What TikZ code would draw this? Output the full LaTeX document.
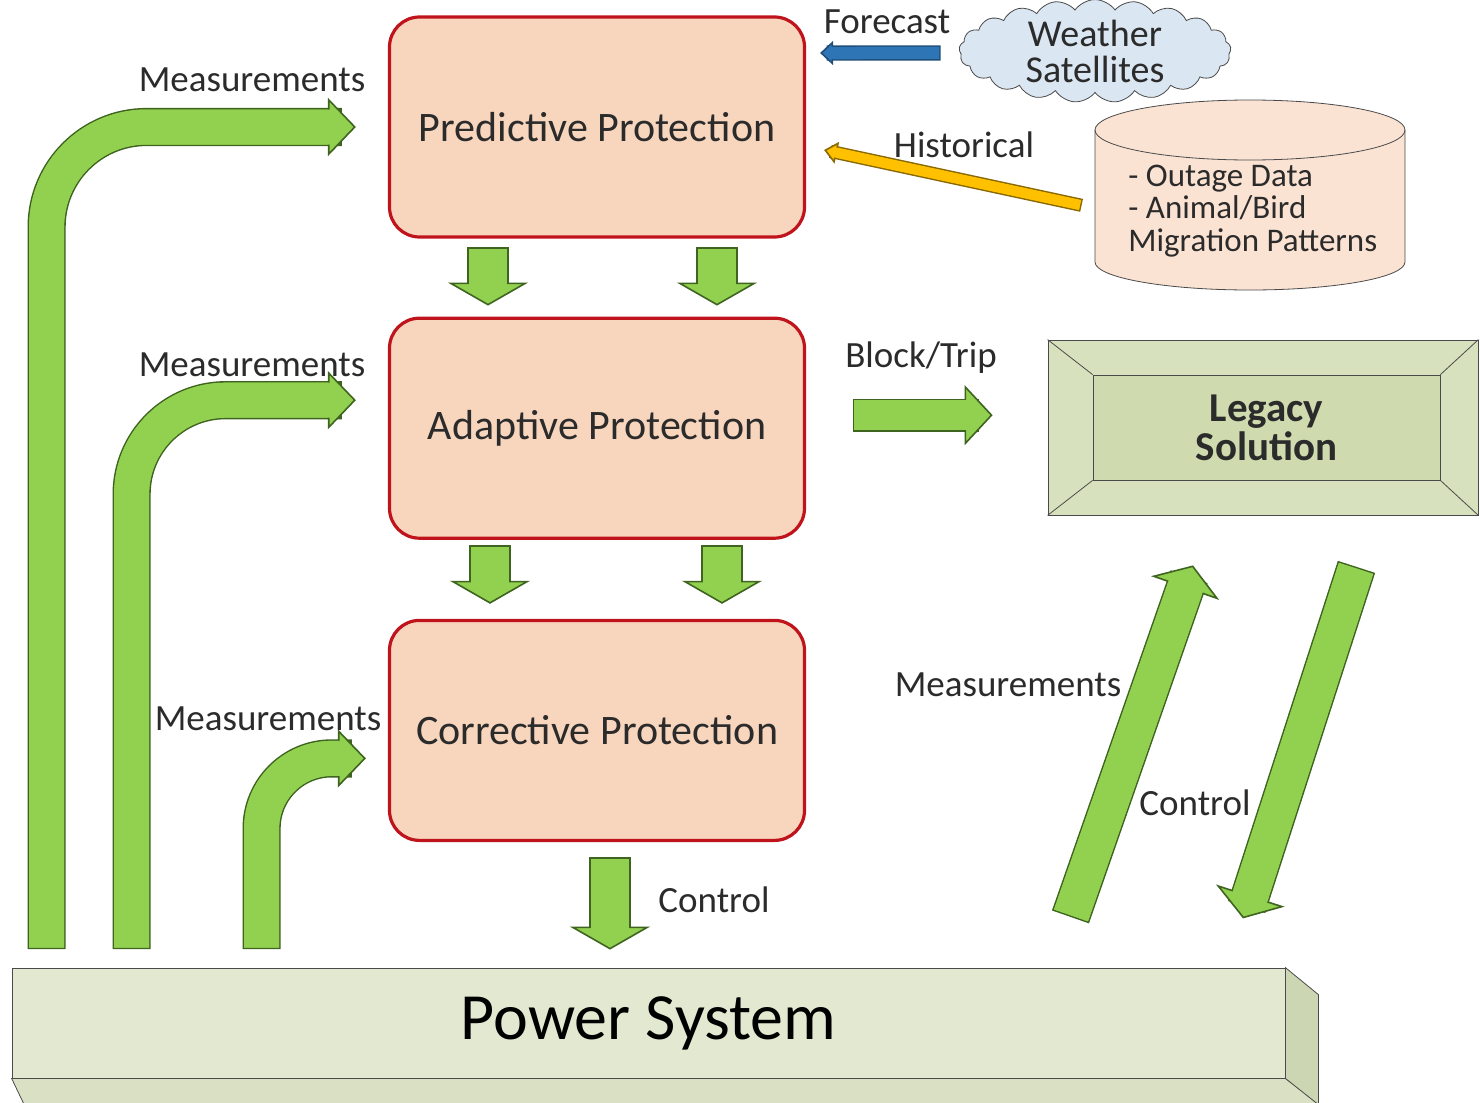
\documentclass[tikz,border=0pt]{standalone}
\usepackage{fontspec}
\setmainfont{Carlito}
\usetikzlibrary{positioning,calc,arrows.meta,shapes.symbols}

\definecolor{boxfill}{HTML}{F8D6BE}
\definecolor{boxred}{HTML}{C0141C}
\definecolor{flowgreen}{HTML}{92D050}
\definecolor{flowgreenedge}{HTML}{3F6420}
\definecolor{fcblue}{HTML}{2E75B6}
\definecolor{fcblueedge}{HTML}{1F4E79}
\definecolor{histgold}{HTML}{FFC000}
\definecolor{histgoldedge}{HTML}{8A6A00}
\definecolor{cloudblue}{HTML}{DAE6F2}
\definecolor{dbfill}{HTML}{FBE3D3}
\definecolor{legacyfill}{HTML}{D7E1BD}
\definecolor{legacyin}{HTML}{CFDBAF}
\definecolor{psfront}{HTML}{E3E9D1}
\definecolor{psbottom}{HTML}{D9E0C3}
\definecolor{psside}{HTML}{CDD6B3}
\definecolor{ink}{HTML}{2B2B2B}
\definecolor{rim}{HTML}{4A4A4A}

\begin{document}
\begin{tikzpicture}[x=0.5pt, y=-0.5pt,
      protect/.style = {draw=boxred, line width=1.6pt, fill=boxfill,
         rounded corners=15pt, minimum width=207.5pt, minimum height=110pt,
         font=\fontsize{21}{24}\selectfont, text=ink},
      lbl/.style = {font=\fontsize{18.5}{20}\selectfont, text=ink, inner sep=0pt},
      fat/.style n args={4}{draw=#4, line width=#1,
         preaction={draw=#4edge, line width=#1+1.6pt, -, shorten <=-0.8pt,
            shorten >=#3/2},
         postaction={draw=#4, line width=#1, -, shorten >=#3-1.5pt},
         -{Triangle[width=#2, length=#3, line width=0.8pt, color=#4edge, fill=#4]}},
      flow/.style = {fat={17.5pt}{29pt}{14pt}{flowgreen}},
      drop/.style = {fat={19pt}{40pt}{11.5pt}{flowgreen}},
      slant/.style = {fat={18pt}{36pt}{12pt}{flowgreen}}
]
   \useasboundingbox (0,0) rectangle (1480,1103);

   % protection stages
   \node[protect]                        (pred)  at (597,127) {Predictive Protection};
   \node[protect, below=39pt of pred]    (adapt) {Adaptive Protection};
   \node[protect, below=39.5pt of adapt] (corr)  {Corrective Protection};

   % power system slab
   \node[draw=rim, fill=psfront, minimum width=636.5pt, minimum height=55pt,
      font=\fontsize{33}{36}\selectfont] (power) at (648.5,1023) {Power System};
   \filldraw[draw=rim, fill=psbottom] (power.south west) -- (power.south east)
      -- ++(33,25) -- ($(power.south west)+(12,25)$) -- cycle;
   \filldraw[draw=rim, fill=psside] (power.north east) -- ++(33,27) -- ++(0,110)
      -- (power.south east) -- cycle;

   % legacy solution
   \node[draw=rim, fill=legacyfill, minimum width=215pt, minimum height=87.5pt]
      (legacy) at (1263,427.5) {};
   \node[draw=rim, fill=legacyin, minimum width=173.5pt, minimum height=52.5pt,
      align=center, font=\bfseries\fontsize{20.5}{19.5}\selectfont, text=ink]
      (sol) at (1266.5,427.5) {Legacy\\Solution};
   \foreach \c in {north west, north east, south west, south east}
      \draw[rim] (legacy.\c) -- (sol.\c);

   % weather satellites
   \node[cloud, cloud puffs=21, cloud puff arc=110, cloud ignores aspect,
      draw=rim, fill=cloudblue, minimum width=136pt, minimum height=42pt,
      lbl, align=center, font=\fontsize{19}{18}\selectfont]
      (sat) at (1095,51) {Weather\\Satellites};

   % historical database
   \filldraw[draw=rim, fill=dbfill] (1095,130) -- (1095,262)
      arc[start angle=180, end angle=360, x radius=77.5pt, y radius=14pt]
      -- (1405,130)
      arc[start angle=0, end angle=180, x radius=77.5pt, y radius=15pt] -- cycle;
   \draw[rim] (1095,130)
      arc[start angle=180, end angle=360, x radius=77.5pt, y radius=15pt];
   \node[lbl, anchor=west, align=left, font=\fontsize{16.5}{16.2}\selectfont]
      (db) at (1128,211) {- Outage Data\\- Animal/Bird\\Migration Patterns};

   % inputs to predictive stage
   \draw[fat={6pt}{12pt}{6.5pt}{fcblue}] ($(sat.west)+(-20,2)$)
      -- ($(pred.east)+(14,-74)$);
   \draw[fat={5pt}{11pt}{6.5pt}{histgold}] ($(db.west)+(-48,-6)$)
      -- ($(pred.east)+(18,23)$);
   \node[lbl] (lfc)  at (887,22)  {Forecast};
   \node[lbl] (lhis) at (964,145) {Historical};

   % stage to stage
   \foreach \dx in {-109,120}
      \draw[drop] ($(pred.south)+(\dx,10)$) -- ($(adapt.north)+(\dx,-11)$);
   \foreach \dx in {-107,125}
      \draw[drop] ($(adapt.south)+(\dx,7)$) -- ($(corr.north)+(\dx,-15)$);
   \draw[drop] ($(corr.south)+(13,17)$) -- ($(power.north)+(-38.5,-18)$);
   \node[lbl] (lctl) at (714,900) {Control};

   % measurements from the grid
   \draw[flow, rounded corners=50pt] ($(power.north west)+(35,-20)$)
      |- ($(pred.west)+(-32,0)$);
   \draw[flow, rounded corners=47pt] ($(power.north west)+(120,-20)$)
      |- ($(adapt.west)+(-32,-28)$);
   \draw[flow, rounded corners=35pt] ($(power.north west)+(250,-20)$)
      |- ($(corr.west)+(-22,28)$);
   \node[lbl] (lm1) at (252,80)  {Measurements};
   \node[lbl] (lm2) at (252,365) {Measurements};
   \node[lbl] (lm3) at (268,719) {Measurements};

   % block/trip to legacy
   \coordinate (bt)    at ($(adapt.east)+(48,-13)$);
   \coordinate (btend) at ($(legacy.west)+(-55,0)$);
   \draw[fat={15pt}{30pt}{14pt}{flowgreen}] (bt) -- (bt -| btend);
   \node[lbl] (lbt) at (921,358) {Block/Trip};

   % legacy loop
   \draw[slant] ($(legacy.south)+(-192,400)$) -- ($(legacy.south)+(-70,50)$);
   \draw[slant] ($(legacy.south)+(93,53)$) -- ($(legacy.south)+(-20,403)$);
   \node[lbl] (lm4) at (1008,685) {Measurements};
   \node[lbl] (lctl2) at (1195,803) {Control};
\end{tikzpicture}
\end{document}
